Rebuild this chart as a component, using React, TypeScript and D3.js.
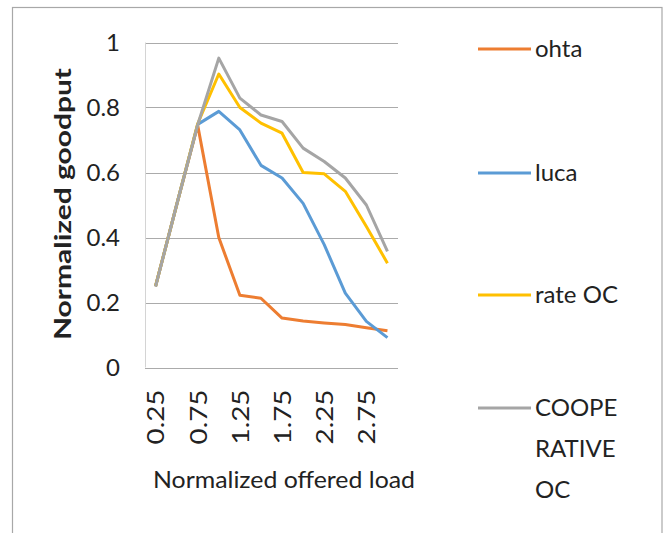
import React, { useRef, useEffect } from 'react';
import * as d3 from 'd3';

// offered load categories (every second one is labelled)
const loads = ['0.25', '0.5', '0.75', '1', '1.25', '1.5', '1.75', '2', '2.25', '2.5', '2.75', '3'];
const yTicks = [0, 0.2, 0.4, 0.6, 0.8, 1];

const ohta = [0.25, 0.5, 0.745, 0.4, 0.222, 0.213, 0.152, 0.143, 0.137, 0.132, 0.122, 0.113];
const luca = [0.25, 0.5, 0.748, 0.788, 0.731, 0.622, 0.583, 0.505, 0.378, 0.229, 0.142, 0.092];
const rateOC = [0.25, 0.5, 0.75, 0.903, 0.8, 0.752, 0.721, 0.6, 0.596, 0.542, 0.434, 0.321];
const cooperativeOC = [0.249, 0.5, 0.747, 0.952, 0.829, 0.777, 0.757, 0.675, 0.634, 0.583, 0.5, 0.357];

const seriesNames = ['ohta', 'luca', 'rate OC', 'COOPERATIVE OC'];
const legendLabels = [['ohta'], ['luca'], ['rate OC'], ['COOPE', 'RATIVE', 'OC']];
const colors = ['#ED7D31', '#5B9BD5', '#FFC000', '#A5A5A5'];

const WIDTH = 667;
const HEIGHT = 533;
const FONT = 'Lato, "Open Sans", sans-serif';

const App = () => {
  const svgRef = useRef(null);

  useEffect(() => {
    if (!svgRef.current) return;
    const svg = d3.select(svgRef.current);
    svg.selectAll('*').remove();

    const series = [ohta, luca, rateOC, cooperativeOC];

    // plot area
    const plot = { left: 145, right: 398, top: 42.5, bottom: 367.5 };

    const x = d3.scalePoint()
      .domain(loads)
      .range([plot.left, plot.right])
      .padding(0.5);

    const y = d3.scaleLinear()
      .domain([0, 1])
      .range([plot.bottom, plot.top]);

    // outer frame
    svg.append('rect')
      .attr('x', 12.5)
      .attr('y', 7.5)
      .attr('width', 649.5)
      .attr('height', 540)
      .attr('fill', 'white')
      .attr('stroke', '#a8a8a8')
      .attr('stroke-width', 1.2);

    // gridlines
    svg.append('g')
      .selectAll('line')
      .data(yTicks)
      .enter()
      .append('line')
      .attr('x1', plot.left)
      .attr('x2', plot.right)
      .attr('y1', d => Math.round(y(d)) + 0.5)
      .attr('y2', d => Math.round(y(d)) + 0.5)
      .attr('stroke', '#ababab')
      .attr('stroke-width', 1.2);

    svg.append('line')
      .attr('x1', plot.left + 0.5)
      .attr('x2', plot.left + 0.5)
      .attr('y1', plot.top)
      .attr('y2', plot.bottom)
      .attr('stroke', '#d4d4d4')
      .attr('stroke-width', 1);

    // y axis labels
    const yAxis = svg.append('g')
      .attr('transform', `translate(${plot.left - 25}, 0)`)
      .call(d3.axisLeft(y).tickValues(yTicks).tickSize(0).tickPadding(0).tickFormat(d => String(+d)));
    yAxis.select('.domain').remove();
    yAxis.selectAll('text')
      .attr('font-family', FONT)
      .attr('font-size', 24)
      .attr('fill', '#222');

    // x axis labels, rotated
    const xAxis = svg.append('g')
      .attr('transform', `translate(0, ${plot.bottom})`)
      .call(d3.axisBottom(x).tickValues(loads.filter((d, i) => i % 2 === 0)).tickSize(0));
    xAxis.select('.domain').remove();
    xAxis.selectAll('text')
      .attr('font-family', FONT)
      .attr('font-size', 24)
      .attr('fill', '#222')
      .attr('transform', 'rotate(-90)')
      .attr('text-anchor', 'end')
      .attr('x', -22)
      .attr('y', 0)
      .attr('dy', '0.35em')
      .attr('textLength', 55)
      .attr('lengthAdjust', 'spacingAndGlyphs');

    // axis titles
    svg.append('text')
      .attr('transform', 'translate(71, 204) rotate(-90)')
      .attr('text-anchor', 'middle')
      .attr('font-family', FONT)
      .attr('font-weight', 'bold')
      .attr('font-size', 23)
      .attr('fill', '#222')
      .attr('textLength', 272)
      .attr('lengthAdjust', 'spacingAndGlyphs')
      .text('Normalized goodput');

    svg.append('text')
      .attr('x', 153)
      .attr('y', 488)
      .attr('font-family', FONT)
      .attr('font-size', 24)
      .attr('fill', '#222')
      .attr('textLength', 262)
      .attr('lengthAdjust', 'spacingAndGlyphs')
      .text('Normalized offered load');

    // lines
    const line = d3.line()
      .x((d, i) => x(loads[i]))
      .y(d => y(d));

    svg.append('g')
      .selectAll('path')
      .data(series)
      .enter()
      .append('path')
      .attr('d', d => line(d))
      .attr('fill', 'none')
      .attr('stroke', (d, i) => colors[i])
      .attr('stroke-width', 3)
      .attr('stroke-linejoin', 'round')
      .append('title')
      .text((d, i) => seriesNames[i]);

    // legend
    const legendY = [49, 173, 295, 408];
    const legend = svg.append('g');
    legendLabels.forEach((lines, i) => {
      legend.append('line')
        .attr('x1', 478)
        .attr('x2', 531)
        .attr('y1', legendY[i])
        .attr('y2', legendY[i])
        .attr('stroke', colors[i])
        .attr('stroke-width', 3);
      lines.forEach((txt, j) => {
        legend.append('text')
          .attr('x', 535)
          .attr('y', legendY[i] + 8 + j * 41)
          .attr('font-family', FONT)
          .attr('font-size', 24)
          .attr('fill', '#222')
          .text(txt);
      });
    });
  }, []);

  return (
    <svg
      ref={svgRef}
      width={WIDTH}
      height={HEIGHT}
      style={{ position: 'absolute', left: 0, top: 0, background: 'white' }}
    ></svg>
  );
};

export default App;
